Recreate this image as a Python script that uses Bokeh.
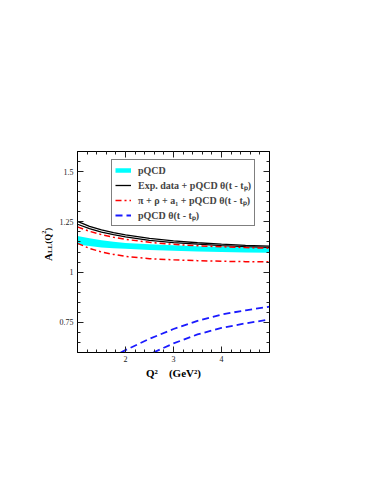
from math import pi
from bokeh.plotting import figure
from bokeh.layouts import row
from bokeh.models import (Range1d, FixedTicker, LinearAxis, Legend, LegendItem,
                          Label, CustomJSTickFormatter)
from bokeh.embed import file_html
from bokeh.resources import INLINE

# ---- data ----
q2 = [1, 1.25, 1.5, 1.75, 2, 2.5, 3, 3.5, 4, 4.5, 5]
black_hi = [1.252, 1.228, 1.210, 1.196, 1.185, 1.168, 1.155, 1.146, 1.139, 1.133, 1.129]
black_lo = [1.238, 1.216, 1.199, 1.186, 1.175, 1.158, 1.147, 1.139, 1.132, 1.127, 1.123]
red_hi = [1.225, 1.203, 1.186, 1.173, 1.163, 1.148, 1.138, 1.131, 1.126, 1.122, 1.119]
red_lo = [1.143, 1.118, 1.100, 1.088, 1.078, 1.067, 1.061, 1.057, 1.054, 1.052, 1.051]
cyan_hi = [1.180, 1.168, 1.158, 1.151, 1.145, 1.138, 1.133, 1.129, 1.126, 1.124, 1.122]
cyan_lo = [1.137, 1.130, 1.123, 1.119, 1.116, 1.110, 1.106, 1.103, 1.100, 1.098, 1.096]

q2_blue_hi = [1.9, 2.0, 2.5, 3, 3.5, 4, 4.5, 5]
blue_hi = [0.600, 0.612, 0.668, 0.717, 0.757, 0.789, 0.810, 0.828]
q2_blue_lo = [2.58, 3, 3.5, 4, 4.5, 5]
blue_lo = [0.600, 0.645, 0.690, 0.722, 0.745, 0.764]

x_major = [2, 3, 4]
x_minor = [1.2, 1.4, 1.6, 1.8, 2.2, 2.4, 2.6, 2.8, 3.2, 3.4, 3.6, 3.8, 4.2, 4.4, 4.6, 4.8]
y_major = [0.75, 1, 1.25, 1.5]
y_tick_labels = ["0.75", "1", "1.25", "1.5"]
y_minor = [0.65, 0.7, 0.8, 0.85, 0.9, 0.95, 1.05, 1.1, 1.15, 1.2, 1.3, 1.35, 1.4, 1.45, 1.55]

legend_labels = ["pQCD",
                 "Exp. data + pQCD θ(t - tₚ)",
                 "π + ρ + a₁ + pQCD θ(t - tₚ)",
                 "pQCD θ(t - tₚ)"]

SERIF = "Liberation Serif"
H = 470
LW = 56          # width of the strip holding the rotated y title
BOTTOM = 118     # bottom border (frames of the row are aligned)

# ---- main plot ----
main = figure(width=360 - LW, height=H, x_range=Range1d(1, 5), y_range=Range1d(0.6, 1.6),
              output_backend="svg", toolbar_location=None,
              min_border_left=77 - LW, min_border_right=91, min_border_top=151,
              min_border_bottom=BOTTOM)
main.xgrid.visible = False
main.ygrid.visible = False
main.outline_line_color = "black"
main.outline_line_width = 1
main.background_fill_color = "white"
main.border_fill_color = "white"

xt = FixedTicker(ticks=x_major, minor_ticks=x_minor)
yt = FixedTicker(ticks=y_major, minor_ticks=y_minor)


def style_axis(ax):
    ax.major_tick_in = 6
    ax.major_tick_out = 0
    ax.minor_tick_in = 3
    ax.minor_tick_out = 0
    ax.axis_line_color = "black"
    ax.major_tick_line_color = "#222222"
    ax.minor_tick_line_color = "#222222"
    ax.major_label_text_font = SERIF
    ax.major_label_text_font_size = "8px"
    ax.major_label_text_color = "#222222"
    ax.major_label_standoff = 4


main.xaxis.ticker = xt
main.yaxis.ticker = yt
main.yaxis.major_label_overrides = dict(zip(y_tick_labels, y_tick_labels))
for ax in main.xaxis + main.yaxis:
    style_axis(ax)
main.xaxis.major_label_standoff = 3

main.xaxis.axis_label = "Q²\u00a0\u00a0\u00a0\u00a0(GeV²)"
main.xaxis.axis_label_text_font = SERIF
main.xaxis.axis_label_text_font_style = "bold"
main.xaxis.axis_label_text_font_size = "11px"
main.xaxis.axis_label_text_color = "black"
main.xaxis.axis_label_standoff = 2

blank = CustomJSTickFormatter(code="return ''")
ax_r = LinearAxis(ticker=yt, formatter=blank)
ax_t = LinearAxis(ticker=xt, formatter=blank)
style_axis(ax_r)
style_axis(ax_t)
main.add_layout(ax_r, "right")
main.add_layout(ax_t, "above")

# ---- series ----
nan = float("nan")
main.varea(x=q2, y1=cyan_lo, y2=cyan_hi, fill_color="#00ffff", fill_alpha=1)
r_cyan_leg = main.line(x=[nan], y=[nan], line_color="#00ffff", line_width=4.5)
r_b1 = main.line(q2, black_hi, line_color="black", line_width=1.3)
main.line(q2, black_lo, line_color="black", line_width=1.3)
r_r1 = main.line(q2, red_hi, line_color="#ff0000", line_width=1.5, line_dash="6 3 2 3")
main.line(q2, red_lo, line_color="#ff0000", line_width=1.5, line_dash="6 3 2 3")
r_bl1 = main.line(q2_blue_hi, blue_hi, line_color="#1a1aff", line_width=1.8, line_dash="7 4")
main.line(q2_blue_lo, blue_lo, line_color="#1a1aff", line_width=1.8, line_dash="7 4")

legend = Legend(items=[LegendItem(label=legend_labels[0], renderers=[r_cyan_leg]),
                       LegendItem(label=legend_labels[1], renderers=[r_b1]),
                       LegendItem(label=legend_labels[2], renderers=[r_r1]),
                       LegendItem(label=legend_labels[3], renderers=[r_bl1])],
                location=(34, 126))
legend.label_text_font = SERIF
legend.label_text_font_style = "bold"
legend.label_text_font_size = "10px"
legend.glyph_width = 16
legend.glyph_height = 14
legend.label_height = 14
legend.padding = 3
legend.spacing = 1
legend.margin = 0
legend.label_standoff = 7
legend.border_line_color = "black"
legend.border_line_width = 1
legend.background_fill_alpha = 1
main.add_layout(legend)

# ---- strip on the left with the rotated y title  A_LL(Q^2) ----
ylab = figure(width=LW, height=H, x_range=Range1d(0, 1), y_range=Range1d(0, 1),
              output_backend="svg", toolbar_location=None,
              x_axis_location=None, y_axis_location=None, min_border=0)
ylab.outline_line_color = None
ylab.xgrid.visible = False
ylab.ygrid.visible = False
ylab.background_fill_color = "white"
ylab.border_fill_color = "white"

FB = H - BOTTOM   # y (from top) of the frame bottom
# (text, font px, offset above frame bottom, offset from left)
ylabel_parts = [("A", 11, FB - 260.5, 47.5),
                ("LL", 7, FB - 252.6, 49.5),
                ("(Q", 9, FB - 243.2, 47.5),
                ("2", 6, FB - 233.2, 43.5),
                (")", 9, FB - 230.2, 47.5)]
for txt, size, sy, sx in ylabel_parts:
    ylab.add_layout(Label(x=sx, y=sy, x_units="screen", y_units="screen", text=txt,
                          angle=pi / 2, angle_units="rad", text_font=SERIF,
                          text_font_style="bold", text_font_size=f"{size}px",
                          text_color="black", text_align="left",
                          text_baseline="alphabetic"))

p = row(ylab, main, spacing=0)
open("out.html", "w").write(file_html(p, INLINE))
